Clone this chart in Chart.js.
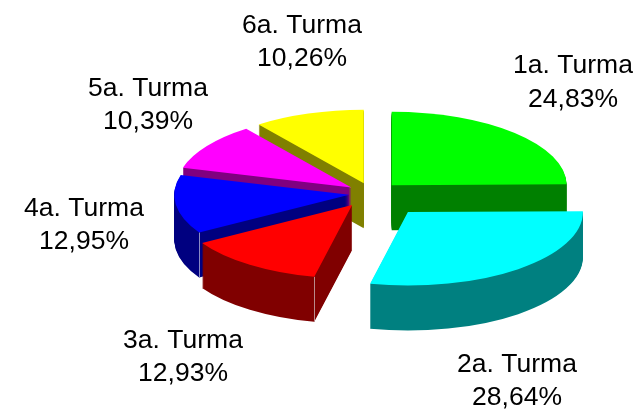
<!DOCTYPE html>
<html>
<head>
<meta charset="utf-8">
<style>
html, body { margin: 0; padding: 0; background: #fff; }
canvas { display: block; }
</style>
<script src="https://cdn.jsdelivr.net/npm/chart.js@4"></script>
</head>
<body>
<canvas id="pieChart" width="644" height="411"></canvas>
<script>
var categories = ['1a. Turma', '2a. Turma', '3a. Turma', '4a. Turma', '5a. Turma', '6a. Turma'];
var percents = [24.83, 28.64, 12.93, 12.95, 10.39, 10.26];

var topColors = ['#00ff00', '#00ffff', '#ff0000', '#0000ff', '#ff00ff', '#ffff00'];
var wallColors = ['#008000', '#008080', '#800000', '#000080', '#800080', '#808000'];
// faint light line on the wall corner of some slices
var seamColors = [null, null, '#b98a8a', '#8a8ac4', null, null];

// how far each slice is pulled out, in pie pixels
var explode = [28, 57, 34, 23, 25, 26];
// back to front
var drawOrder = [0, 5, 4, 3, 2, 1];
// label centre x and baselines of the two lines
var labelX = [573, 517, 183, 84, 148, 302];
var labelY = [[73, 107], [372, 405], [348, 381], [216, 249], [96, 129], [33, 66]];

var centerX = 372;
var centerY = 193.5;
var radius = 175;
var squash = 0.42;
var depth = 45;

function drawSlice(ctx, arc, dx, dy) {
	ctx.save();
	ctx.translate(centerX + dx, centerY + dy);
	ctx.scale(1, squash);
	ctx.translate(-centerX, -centerY);
	arc.draw(ctx);
	ctx.restore();
}

var pie3d = {
	id: 'pie3d',
	beforeDatasetsDraw: function(chart) {
		var ctx = chart.ctx;
		var arcs = chart.getDatasetMeta(0).data;
		drawOrder.forEach(function(i) {
			var arc = arcs[i];
			var mid = (arc.startAngle + arc.endAngle) / 2;
			var dx = Math.cos(mid) * explode[i];
			var dy = Math.sin(mid) * explode[i] * squash;
			var topOptions = arc.options;
			arc.options = Object.assign({}, topOptions, { backgroundColor: wallColors[i] });
			for (var d = depth; d > 0; d--) {
				drawSlice(ctx, arc, dx, dy + d);
			}
			arc.options = topOptions;
			drawSlice(ctx, arc, dx, dy);
			if (seamColors[i]) {
				var x = Math.round(centerX + dx + Math.cos(arc.startAngle) * radius) + 0.5;
				var y = centerY + dy + Math.sin(arc.startAngle) * radius * squash;
				ctx.strokeStyle = seamColors[i];
				ctx.lineWidth = 1;
				ctx.beginPath();
				ctx.moveTo(x, y);
				ctx.lineTo(x, y + depth);
				ctx.stroke();
			}
		});
		return false;
	},
	afterDraw: function(chart) {
		var ctx = chart.ctx;
		ctx.save();
		ctx.font = '26.5px "Liberation Sans"';
		ctx.fillStyle = '#000';
		ctx.textAlign = 'center';
		categories.forEach(function(name, i) {
			ctx.fillText(name, labelX[i], labelY[i][0]);
			ctx.fillText(percents[i].toFixed(2).replace('.', ',') + '%', labelX[i], labelY[i][1]);
		});
		ctx.restore();
	}
};

new Chart(document.getElementById('pieChart'), {
	type: 'pie',
	data: {
		labels: categories,
		datasets: [{
			data: percents,
			backgroundColor: topColors,
			borderWidth: 0
		}]
	},
	options: {
		responsive: false,
		animation: false,
		radius: radius,
		layout: { padding: { left: 100, bottom: 24 } },
		plugins: { legend: { display: false }, tooltip: { enabled: false } }
	},
	plugins: [pie3d]
});
</script>
</body>
</html>
